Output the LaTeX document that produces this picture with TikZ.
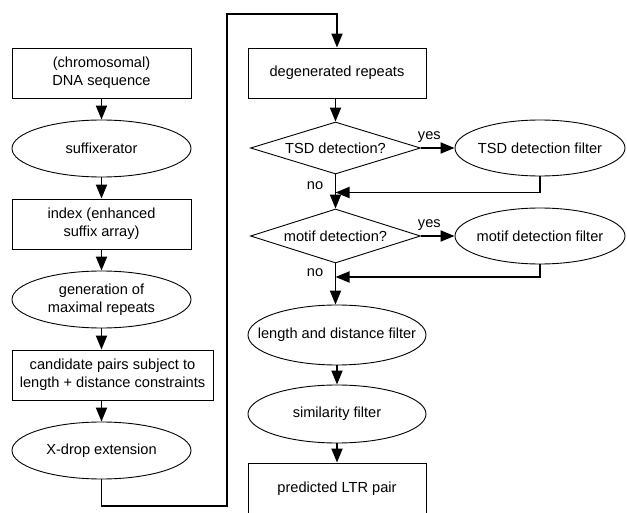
\documentclass[tikz,border=0pt]{standalone}
\usepackage{fontspec}
\setmainfont{Liberation Sans}
\usetikzlibrary{shapes.geometric,arrows.meta}
\tikzset{
  box/.style={draw, line width=0.9pt, rectangle, minimum width=179pt, minimum height=50pt, inner sep=0pt, align=center},
  ell/.style={draw, line width=0.9pt, ellipse, minimum width=179pt, minimum height=57pt, inner xsep=-40pt, inner ysep=-10pt, align=center},
  dia/.style={draw, line width=0.9pt, diamond, minimum width=170pt, minimum height=52pt, inner sep=0pt, shape aspect=3.2, align=center},
  conn/.style={line width=1.8pt, -{Triangle[length=14pt,width=11pt]}},
  lbl/.style={inner sep=0pt},
}
\begin{document}
\begin{tikzpicture}[x=1pt,y=-1pt,font=\fontsize{14.6}{18}\selectfont]
\useasboundingbox[fill=white] (0,0) rectangle (627,513);
% left column
\node[box] (dna) at (101.5,73) {(chromosomal)\\DNA sequence};
\node[ell] (suf) at (101.5,148.5) {suffixerator};
\node[box] (idx) at (101.5,224) {index (enhanced\\suffix array)};
\node[ell] (gen) at (101.5,299.5) {generation of\\maximal repeats};
\node[box, minimum width=201pt] (cand) at (112.5,375) {candidate pairs subject to\\length + distance constraints};
\node[ell] (xdr) at (101.5,450.5) {X-drop extension};
% right column
\node[box, minimum width=178pt] (deg) at (337,73) {degenerated repeats};
\node[dia] (tsd) at (335.5,148) {TSD detection?};
\node[ell, minimum width=170pt, minimum height=56pt] (tsdf) at (540,148) {TSD detection filter};
\node[dia, minimum height=54pt] (mot) at (335.5,236) {motif detection?};
\node[ell, minimum width=170pt, minimum height=56pt] (motf) at (540,236) {motif detection filter};
\node[ell, minimum width=178pt, minimum height=60pt] (len) at (337,335) {length and distance filter};
\node[ell, minimum width=178pt, minimum height=58pt] (sim) at (337,414) {similarity filter};
\node[box, minimum width=178pt, minimum height=52pt] (pred) at (337,489) {predicted LTR pair};
% helper coordinates
\coordinate (c1) at (227,506);
\coordinate (c2) at (227,14);
\coordinate (j1) at (335.5,192.5);
\coordinate (j2) at (335.5,277);
% connectors left
\draw[conn] (dna) -- (suf);
\draw[conn] (suf) -- (idx);
\draw[conn] (idx) -- (gen);
\draw[conn] (gen.south) -- (gen.south |- cand.north);
\draw[conn] (xdr.north |- cand.south) -- (xdr.north);
\draw[conn] (xdr.south) |- (c1) -- (c2) -| (deg.north);
% right
\draw[conn] (deg.south -| tsd.north) -- (tsd.north);
\draw[conn] (tsd.east) -- (tsdf.west) node[lbl, pos=0.25, above=5pt] (y1) {yes};
\draw[conn] (tsd.south) -- (mot.north);
\draw[conn] (tsdf.south) |- (j1);
\node[lbl] (n1) at (315,186) {no};
\draw[conn] (mot.east) -- (motf.west) node[lbl, pos=0.25, above=5pt] (y2) {yes};
\draw[conn] (mot.south) -- (mot.south |- len.north);
\draw[conn] (motf.south) |- (j2);
\node[lbl] (n2) at (315,273) {no};
\draw[conn] (len.south) -- (len.south |- sim.north);
\draw[conn] (sim.south) -- (sim.south |- pred.north);
\end{tikzpicture}
\end{document}
